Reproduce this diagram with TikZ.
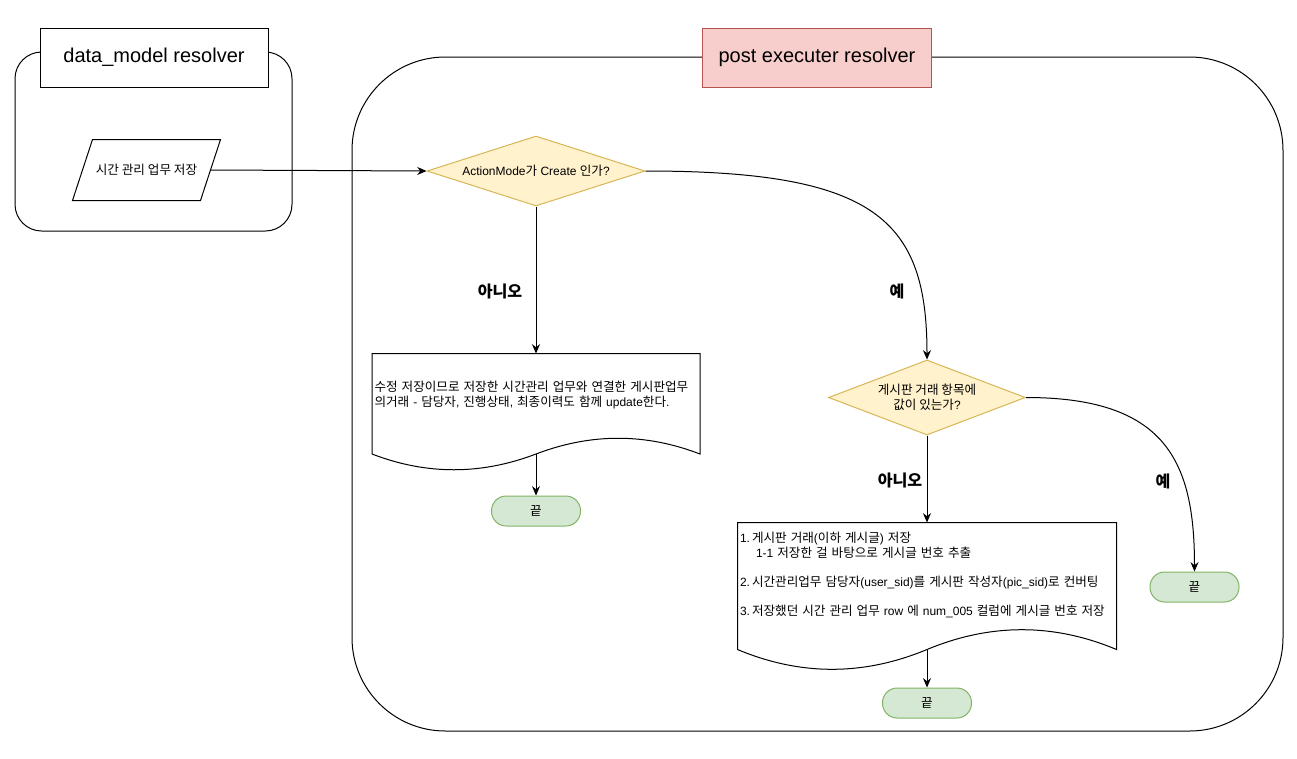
\documentclass[tikz,border=0pt]{standalone}
\usepackage{fontspec}
\setmainfont{Liberation Sans}
\newfontfamily\krfont{Noto Sans CJK KR}[Scale=1.05]
\newcommand\K[1]{{\krfont #1}}
\usepackage{tikz}
\usetikzlibrary{shapes,arrows.meta,calc}

\definecolor{decfill}{HTML}{FFF2CC}
\definecolor{decline}{HTML}{D6B656}
\definecolor{endfill}{HTML}{D5E8D4}
\definecolor{endline}{HTML}{82B366}
\definecolor{redfill}{HTML}{F8CECC}
\definecolor{redline}{HTML}{B85450}

\begin{document}
\begin{tikzpicture}[x=0.75pt,y=-0.75pt,line width=0.75pt,
  every node/.style={font=\fontsize{9}{10.9}\selectfont},
  arr/.style={-{Stealth[length=7pt,width=6pt]}},
  titlebox/.style={draw,fill=white,inner sep=0,minimum height=44.25pt,font=\fontsize{15}{17}\selectfont},
  decision/.style={diamond,aspect=3,draw=decline,fill=decfill,inner sep=0,align=center},
  stopbox/.style={draw=endline,fill=endfill,rounded corners=11pt,minimum width=66.75pt,minimum height=22.5pt},
  doctext/.style={inner sep=0,align=left},
  answer/.style={font=\fontsize{11.5}{13}\selectfont\bfseries}]
\useasboundingbox (0,0) rectangle (1297,758);
%\draw (0,0) grid[step=50] (1297,758);

% containers
\draw[rounded corners=20pt] (15,52) rectangle (292,231);
\draw[rounded corners=70pt] (352,57) rectangle (1283,731);

\node [titlebox,minimum width=171pt] (dmtitle) at (154,57.5) {data\_model resolver};
\node [titlebox,minimum width=171.75pt,draw=redline,fill=redfill] (petitle) at (817,57.5) {post executer resolver};

% left side
\node [inner sep=0,minimum width=110.25pt,minimum height=45pt] (save) at (146.5,170) {\K{시간 관리 업무 저장}};
\draw ($(save.north west)+(20,0)$) -- (save.north east) -- ($(save.south east)+(-20,0)$) -- (save.south west) -- cycle;

% decisions
\node [decision,minimum width=163.5pt,minimum height=52.5pt] (mode) at (536,171) {ActionMode\K{가} Create \K{인가}?};
\node [decision,minimum width=147.75pt,minimum height=56.25pt] (hasval) at (927,397.5) {\K{게시판 거래 항목에}\\\K{값이 있는가}?};

% documents
\node [doctext,minimum width=245.25pt,minimum height=61.5pt,text width=242.25pt] (update) at (536,395)
  {\K{수정 저장이므로 저장한 시간관리 업무와 연결한 게시판업무}\\\K{의거래} - \K{담당자}, \K{진행상태}, \K{최종이력도 함께} update\K{한다}.};
\draw (update.north west) -- (update.north east) -- ($(update.south east)+(0,17.5)$)
  .. controls ($(update.south east)+(-54.5,-3.5)$) and ($(update.south east)+(-109,-3.5)$) .. ($(update.south)+(0,17.5)$)
  .. controls ($(update.south west)+(109,38.5)$) and ($(update.south west)+(54.5,38.5)$) .. ($(update.south west)+(0,17.5)$) -- cycle;

\node [doctext,minimum width=283.5pt,minimum height=78pt,text width=280.5pt] (insert) at (927,575)
  {1.\,\K{게시판 거래}(\K{이하 게시글}) \K{저장}\\
   \hspace*{12pt}1-1 \K{저장한 걸 바탕으로 게시글 번호 추출}\\[10.9pt]
   2.\,\K{시간관리업무 담당자}(user\_sid)\K{를 게시판 작성자}(pic\_sid)\K{로 컨버팅}\\[10.9pt]
   3.\,\K{저장했던 시간 관리 업무} row \K{에} num\_005 \K{컬럼에 게시글 번호 저장}};
\draw (insert.north west) -- (insert.north east) -- ($(insert.south east)+(0,22)$)
  .. controls ($(insert.south east)+(-63,-4.4)$) and ($(insert.south east)+(-126,-4.4)$) .. ($(insert.south)+(0,22)$)
  .. controls ($(insert.south west)+(126,48.4)$) and ($(insert.south west)+(63,48.4)$) .. ($(insert.south west)+(0,22)$) -- cycle;

% ends
\node [stopbox] (endA) at (536,511) {\K{끝}};
\node [stopbox] (endB) at (927,703) {\K{끝}};
\node [stopbox] (endC) at (1194.5,587) {\K{끝}};

% connectors
\draw [arr] ($(save.east)+(-10,0)$) -- (mode.west);
\draw [arr] (mode.south) -- (update.north);
\draw [arr] (mode.east) .. controls +(230,0) and +(0,-140) .. (hasval.north);
\draw [arr] ($(update.south)+(0,17.5)$) -- (endA);
\draw [arr] (hasval.south) -- (insert.north);
\draw [arr] (hasval.east) .. controls +(140,0) and +(0,-110) .. (endC.north);
\draw [arr] ($(insert.south)+(0,22)$) -- (endB);

\node [answer] (noA) at (500,291) {\K{아니오}};
\node [answer] (yesA) at (897,291) {\K{예}};
\node [answer] (noB) at (900,480) {\K{아니오}};
\node [answer] (yesB) at (1163,481) {\K{예}};
\end{tikzpicture}
\end{document}
